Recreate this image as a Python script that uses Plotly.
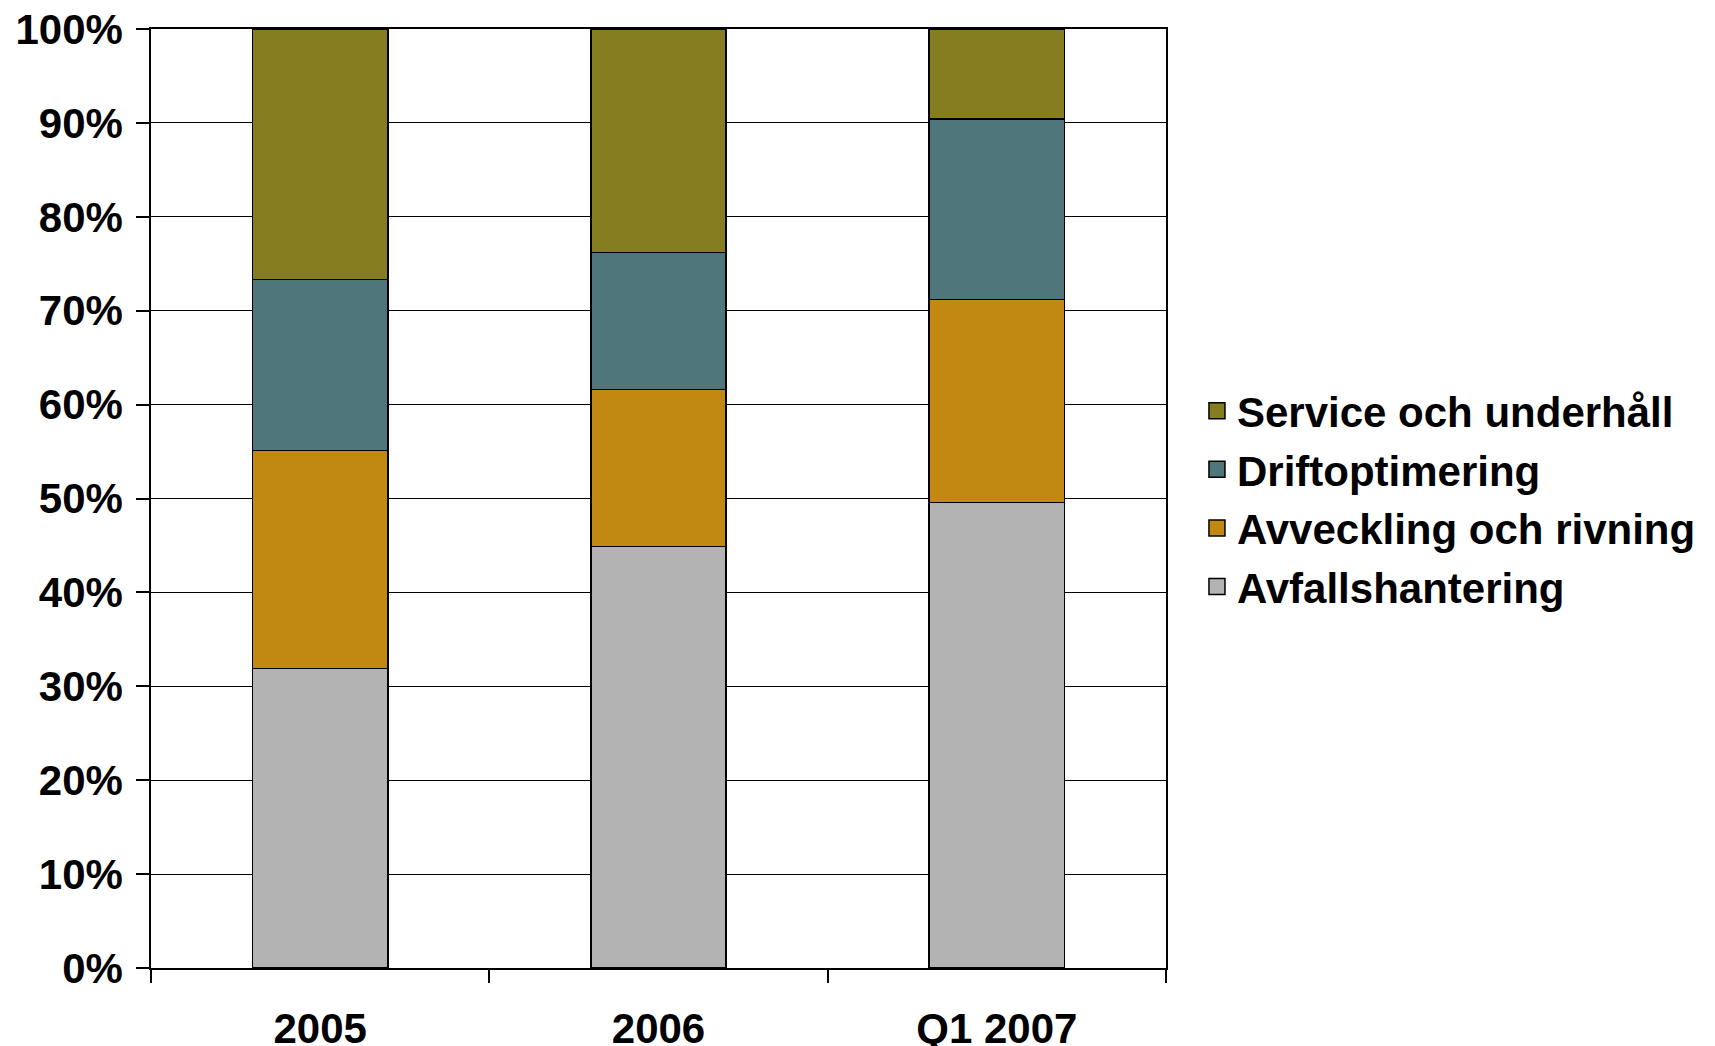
import plotly.graph_objects as go

categories = ["2005", "2006", "Q1 2007"]
avfall = [31.9, 44.9, 49.6]
avveckling = [23.2, 16.7, 21.6]
drift = [18.2, 14.6, 19.2]
service = [26.7, 23.8, 9.6]

series_names = ["Avfallshantering", "Avveckling och rivning", "Driftoptimering", "Service och underhåll"]
series_values = [avfall, avveckling, drift, service]
series_colors = ["#B3B3B3", "#C28912", "#4F767A", "#857D20"]

FONT = "Liberation Sans, Arial, sans-serif"

fig = go.Figure()
n = len(series_names)
for i, (name, vals, col) in enumerate(zip(series_names, series_values, series_colors)):
    fig.add_trace(go.Bar(
        x=categories, y=vals, name=name,
        marker=dict(color=col, line=dict(color="black", width=1.5)),
        legendgroup=f"g{i}", showlegend=False,
        width=0.4,
    ))
# legend entries with larger square swatches
for i, (name, col) in enumerate(zip(series_names, series_colors)):
    fig.add_trace(go.Scatter(
        x=[None], y=[None], mode="markers", name=name,
        marker=dict(symbol="square", size=22, color=col, line=dict(color="black", width=1.5)),
        legendgroup=f"g{i}", legendrank=n - i, showlegend=True, hoverinfo="skip",
    ))

fig.update_layout(
    barmode="stack",
    width=1715, height=1046,
    margin=dict(l=143, r=557, t=21, b=86, autoexpand=False),
    paper_bgcolor="white", plot_bgcolor="white",
    font=dict(family=FONT, size=42, color="black"),
    showlegend=True,
    legend=dict(
        x=1.0305, xanchor="left", y=0.4995, yanchor="middle",
        traceorder="grouped", tracegroupgap=1, itemsizing="trace",
        font=dict(family=FONT, size=42, color="black", weight="bold"),
        bgcolor="rgba(0,0,0,0)",
    ),
)
fig.update_xaxes(
    showline=True, linecolor="black", linewidth=1.5, mirror=True,
    ticks="outside", ticklen=13, tickwidth=1.5, tickcolor="black",
    tickson="boundaries", showgrid=False,
    tickfont=dict(family=FONT, size=42, color="black", weight="bold"),
    ticklabelstandoff=23, ticklabeloverflow="allow",
)
fig.update_yaxes(
    range=[0, 100], dtick=10, ticksuffix="%",
    showline=True, linecolor="black", linewidth=1.5, mirror=True,
    ticks="outside", ticklen=13, tickwidth=1.5, tickcolor="black",
    showgrid=True, gridcolor="black", gridwidth=1.3, zeroline=False,
    tickfont=dict(family=FONT, size=42, color="black", weight="bold"),
    ticklabelstandoff=5, ticklabeloverflow="allow",
)

fig.write_html("out.html")
